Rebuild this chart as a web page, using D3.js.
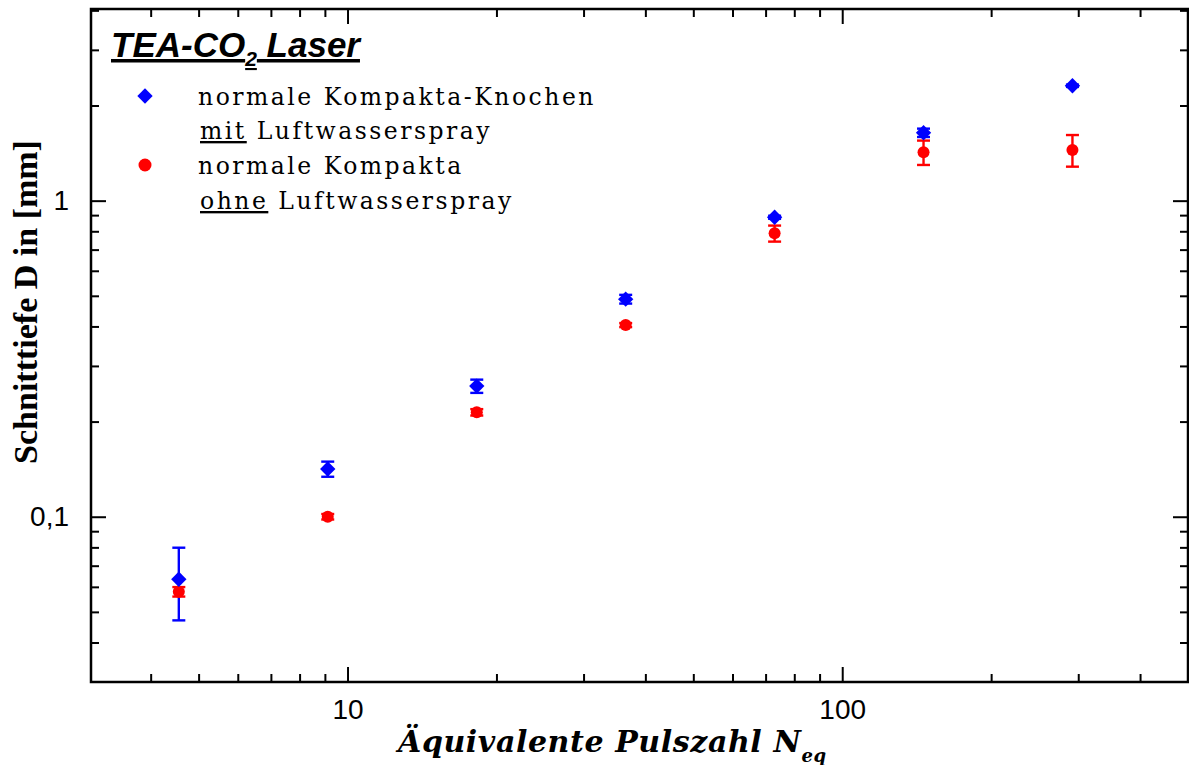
<!DOCTYPE html>
<html>
<head>
<meta charset="utf-8">
<script src="https://cdn.jsdelivr.net/npm/d3@7"></script>
<style>
  body { margin: 0; background: #fff; }
  svg { display: block; }
</style>
</head>
<body>
<div id="chart"></div>
<script>
// pulse numbers (x) for both series
const pulses = [4.56, 9.12, 18.25, 36.5, 73, 146, 292];

// with air-water spray (blue diamonds)
const mitValues = [0.0634, 0.1416, 0.259, 0.488, 0.886, 1.64, 2.31];
const mitErrors = [0.0164, 0.0078, 0.0125, 0.0155, 0.01, 0.05, 0.02];

// without spray (red circles)
const ohneValues = [0.0579, 0.1, 0.214, 0.404, 0.788, 1.423, 1.447];
const ohneErrors = [0.002, 0.002, 0.005, 0.006, 0.046, 0.126, 0.166];

const xMajor = [10, 100];
const xMinor = [4, 5, 6, 7, 8, 9, 20, 30, 40, 50, 60, 70, 80, 90, 200, 300, 400];
const yMajor = [0.1, 1];
const yMinor = [0.04, 0.05, 0.06, 0.07, 0.08, 0.09, 0.2, 0.3, 0.4, 0.5, 0.6, 0.7, 0.8, 0.9, 2, 3, 4];
const yLabels = {0.1: "0,1", 1: "1"};

const width = 1189, height = 765;
const margin = {top: 9, right: 1, bottom: 83, left: 91};

const svg = d3.select("#chart").append("svg")
  .attr("width", width)
  .attr("height", height);

const x = d3.scaleLog().domain([3.03, 500]).range([margin.left, width - margin.right]);
const y = d3.scaleLog().domain([0.03, 4.04]).range([height - margin.bottom, margin.top]);

const x0 = margin.left, x1 = width - margin.right;
const y0 = height - margin.bottom, y1 = margin.top;

// ticks, all pointing inward, mirrored on top/right
const tickGroup = (axis, tr) => svg.append("g").attr("transform", tr).call(axis)
  .call(g => g.select(".domain").remove())
  .call(g => g.selectAll("line").attr("stroke", "#000").attr("stroke-width", 2));

tickGroup(d3.axisBottom(x).tickValues(xMinor).tickSize(-8).tickFormat(""), `translate(0,${y0})`);
tickGroup(d3.axisTop(x).tickValues(xMinor).tickSize(-8).tickFormat(""), `translate(0,${y1})`);
tickGroup(d3.axisLeft(y).tickValues(yMinor).tickSize(-8).tickFormat(""), `translate(${x0},0)`);
tickGroup(d3.axisRight(y).tickValues(yMinor).tickSize(-8).tickFormat(""), `translate(${x1},0)`);

const bottomMajor = tickGroup(d3.axisBottom(x).tickValues(xMajor).tickSize(-15).tickPadding(17).tickFormat(d3.format("d")), `translate(0,${y0})`);
tickGroup(d3.axisTop(x).tickValues(xMajor).tickSize(-15).tickFormat(""), `translate(0,${y1})`);
const leftMajor = tickGroup(d3.axisLeft(y).tickValues(yMajor).tickSize(-15).tickPadding(22).tickFormat(d => yLabels[d]), `translate(${x0},0)`);
tickGroup(d3.axisRight(y).tickValues(yMajor).tickSize(-15).tickFormat(""), `translate(${x1},0)`);

[bottomMajor, leftMajor].forEach(g => g.selectAll("text")
  .attr("font-family", "Liberation Sans, Arial, sans-serif")
  .attr("font-size", 28)
  .attr("fill", "#000"));

// frame
svg.append("rect")
  .attr("x", x0).attr("y", y1)
  .attr("width", x1 - x0).attr("height", y0 - y1)
  .attr("fill", "none").attr("stroke", "#000").attr("stroke-width", 2.5);

// error bars
const drawErrors = (values, errors, color) => {
  const g = svg.append("g").attr("stroke", color).attr("stroke-width", 2.4);
  pulses.forEach((p, i) => {
    const cx = x(p);
    const top = y(values[i] + errors[i]);
    const bot = y(values[i] - errors[i]);
    g.append("line").attr("x1", cx).attr("x2", cx).attr("y1", top).attr("y2", bot);
    g.append("line").attr("x1", cx - 6.5).attr("x2", cx + 6.5).attr("y1", top).attr("y2", top);
    g.append("line").attr("x1", cx - 6.5).attr("x2", cx + 6.5).attr("y1", bot).attr("y2", bot);
  });
};

drawErrors(mitValues, mitErrors, "#0000ff");
drawErrors(ohneValues, ohneErrors, "#ff0000");

const diamond = d3.symbol().type(d3.symbolDiamond2).size(150);

svg.append("g").selectAll("circle")
  .data(ohneValues)
  .join("circle")
  .attr("cx", (d, i) => x(pulses[i]))
  .attr("cy", d => y(d))
  .attr("r", 6)
  .attr("fill", "#ff0000");

svg.append("g").selectAll("path")
  .data(mitValues)
  .join("path")
  .attr("d", diamond)
  .attr("transform", (d, i) => `translate(${x(pulses[i])},${y(d)})`)
  .attr("fill", "#0000ff");

// title
const title = svg.append("text")
  .attr("x", 111).attr("y", 57)
  .attr("font-family", "Liberation Sans, Arial, sans-serif")
  .attr("font-weight", "bold").attr("font-style", "italic")
  .attr("font-size", 35)
  .attr("text-decoration", "underline");
title.append("tspan").text("TEA-CO");
title.append("tspan").attr("font-size", 21).attr("dy", 9).text("2");
title.append("tspan").attr("dy", -9).text(" Laser");

// legend
const legendFont = "DejaVu Serif, serif";
svg.append("path").attr("d", diamond).attr("transform", "translate(145,96)").attr("fill", "#0000ff");
svg.append("circle").attr("cx", 145).attr("cy", 165).attr("r", 6.5).attr("fill", "#ff0000");

const legendLines = [
  {y: 105, parts: [["normale Kompakta-Knochen", false]]},
  {y: 139, parts: [["mit", true], [" Luftwasserspray", false]], dx: 2},
  {y: 174, parts: [["normale Kompakta", false]]},
  {y: 209, parts: [["ohne", true], [" Luftwasserspray", false]], dx: 2}
];
legendLines.forEach(l => {
  const t = svg.append("text")
    .attr("x", 198 + (l.dx || 0)).attr("y", l.y)
    .attr("font-family", legendFont)
    .attr("font-size", 23.5)
    .attr("letter-spacing", 2.5)
    .attr("fill", "#000");
  l.parts.forEach(([s, u]) => {
    const sp = t.append("tspan").text(s);
    if (u) sp.attr("text-decoration", "underline");
  });
});

// axis titles
const xt = svg.append("text")
  .attr("x", 398).attr("y", 752)
  .attr("font-family", "DejaVu Serif, serif")
  .attr("font-weight", "bold").attr("font-style", "italic")
  .attr("font-size", 30)
  .attr("letter-spacing", 0.6);
xt.append("tspan").text("Äquivalente Pulszahl N");
xt.append("tspan").attr("font-size", 18).attr("dy", 10).text("eq");

svg.append("text")
  .attr("transform", `translate(37,302) rotate(-90)`)
  .attr("text-anchor", "middle")
  .attr("font-family", "Liberation Serif, Times New Roman, serif")
  .attr("font-weight", "bold")
  .attr("font-size", 34)
  .text("Schnitttiefe D in [mm]");
</script>
</body>
</html>
